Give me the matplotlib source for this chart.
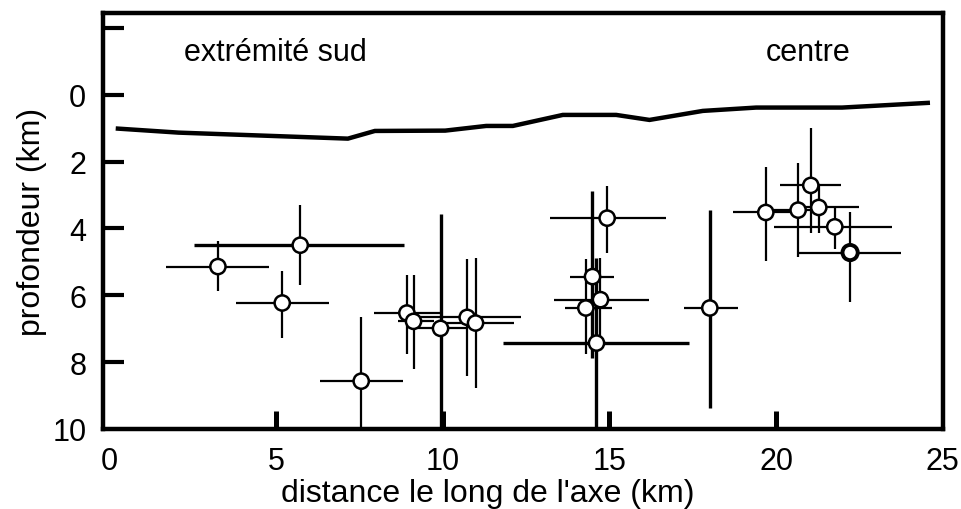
import numpy as np
import matplotlib
matplotlib.use("Agg")
import matplotlib.pyplot as plt

plt.rcParams['font.family'] = ['Liberation Sans', 'DejaVu Sans']

# surface (fond de l'axe)
surf_x = [0.25, 2.07, 7.15, 7.96, 10.07, 11.3, 12.1, 13.6, 15.2, 16.2, 17.8, 19.4, 21.98, 24.55]
surf_y = [1.01, 1.13, 1.31, 1.08, 1.07, 0.93, 0.93, 0.60, 0.60, 0.75, 0.48, 0.38, 0.38, 0.24]

# hypocentres: position, extent of error bars (absolute)
px = [3.25, 5.72, 5.18, 7.55, 8.92, 9.12, 9.93, 10.73, 10.98,
      14.93, 14.49, 14.73, 14.29, 14.61, 18.01,
      19.69, 21.04, 20.66, 21.28, 21.76, 22.22]
py = [5.14, 4.50, 6.23, 8.57, 6.53, 6.78, 6.99, 6.66, 6.83,
      3.69, 5.44, 6.13, 6.38, 7.43, 6.38,
      3.52, 2.71, 3.45, 3.37, 3.95, 4.72]
x_lo = [1.70, 2.52, 3.79, 6.32, 7.92, 8.64, 9.18, 9.14, 9.90,
        13.22, 13.82, 13.34, 13.67, 11.81, 17.25,
        18.71, 20.13, 19.69, 20.66, 19.95, 20.66]
x_hi = [4.78, 8.84, 6.57, 8.79, 9.92, 9.72, 10.73, 12.34, 12.12,
        16.70, 15.13, 16.20, 15.09, 17.38, 18.86,
        20.66, 21.95, 21.28, 22.50, 23.47, 23.74]
y_lo = [4.37, 3.30, 5.26, 6.66, 5.38, 5.38, 3.57, 4.92, 4.88,
        2.73, 2.88, 4.87, 4.92, 4.87, 3.45,
        2.16, 0.99, 2.03, 2.70, 3.37, 3.52]
y_hi = [5.86, 5.68, 7.29, 10.5, 7.76, 8.22, 10.5, 8.43, 8.77,
        4.72, 7.87, 7.60, 7.77, 10.5, 9.36,
        4.96, 4.12, 4.84, 4.12, 4.62, 6.21]
thick_x = [False, True, False, False, False, False, False, False, False,
           False, False, False, False, True, False,
           False, False, False, False, False, False]
thick_y = [False, False, False, False, False, False, True, False, False,
           False, True, False, False, True, True,
           False, False, False, False, False, False]

fig = plt.figure(figsize=(9.62, 5.10), dpi=100)
ax = fig.add_axes([0.107, 0.157, 0.873, 0.8155])

ax.plot(surf_x, surf_y, color='black', lw=3.2, solid_joinstyle='miter', zorder=2)

lw_x = [2.4 if t else 1.6 for t in thick_x]
lw_y = [2.4 if t else 1.6 for t in thick_y]
ax.hlines(py, x_lo, x_hi, colors='black', linewidths=lw_x, zorder=2)
ax.vlines(px, y_lo, y_hi, colors='black', linewidths=lw_y, zorder=2)
edge = [1.8] * len(px)
edge[-1] = 2.8
ax.scatter(px, py, s=120, facecolors='white', edgecolors='black', linewidths=edge, zorder=3)

ax.text(4.97, -1.27, 'extrémité sud', fontsize=22, ha='center', va='center')
ax.text(20.97, -1.27, 'centre', fontsize=22, ha='center', va='center')

ax.set_xlim(-0.2, 24.9)
ax.set_ylim(10, -2.45)
# labels on major ticks, marks on minor ticks
ax.xaxis.remove_overlapping_locs = False
ax.yaxis.remove_overlapping_locs = False
ax.set_xticks([0, 5, 10, 15, 20, 25])
ax.set_xticks([5, 10, 15, 20], minor=True)
ax.set_yticks([0, 2, 4, 6, 8, 10])
ax.set_yticks([-2, 0, 2, 4, 6, 8], minor=True)
ax.tick_params(axis='x', which='major', direction='in', length=0, labelsize=22, pad=12)
ax.tick_params(axis='y', which='major', direction='in', length=0, labelsize=22, pad=12)
ax.tick_params(axis='x', which='minor', direction='in', length=13, width=3.6)
ax.tick_params(axis='y', which='minor', direction='in', length=15, width=3.0)
for s in ax.spines.values():
    s.set_linewidth(3.2)

ax.set_xlabel("distance le long de l'axe (km)", fontsize=23)
ax.xaxis.set_label_coords(0.458, -0.118)
ax.set_ylabel('profondeur (km)', fontsize=23, labelpad=4)

fig.savefig('out.png', dpi=100)
